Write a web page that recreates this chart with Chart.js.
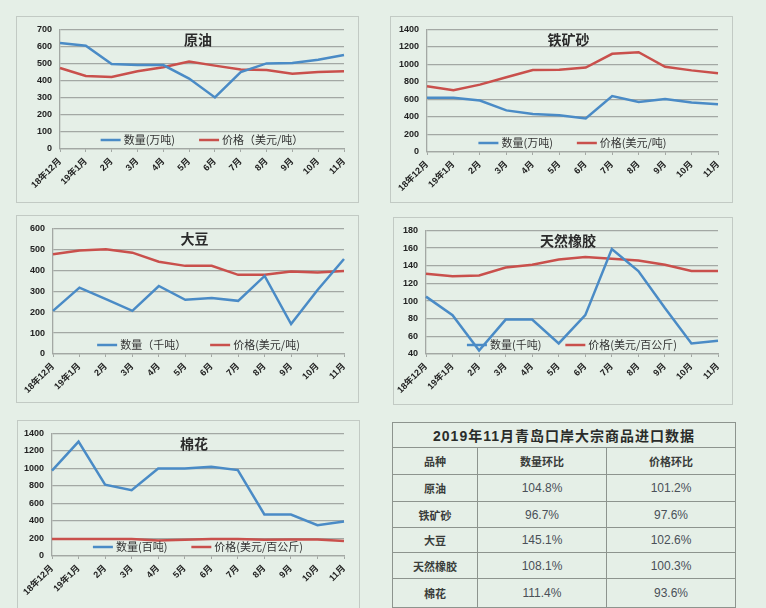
<!DOCTYPE html>
<html lang="zh-CN">
<head>
<meta charset="UTF-8">
<title>2019年11月青岛口岸大宗商品进口数据</title>
<style>
    body {
        margin: 0;
        width: 766px;
        height: 608px;
        overflow: hidden;
        position: relative;
        background-color: #e5efe7;
        font-family: "Liberation Sans", "Noto Sans CJK SC", sans-serif;
    }
    .frame {
        position: absolute;
        box-sizing: border-box;
        border: 1px solid #c2cac4;
    }
    canvas {
        position: absolute;
    }
    #tbl {
        position: absolute;
        left: 392px;
        top: 422px;
        width: 343px;
        border-collapse: collapse;
        table-layout: fixed;
        color: #3a3d3b;
    }
    #tbl td {
        border: 1px solid #8d948e;
        text-align: center;
        padding: 0;
        font-size: 11px;
        font-weight: bold;
    }
    #tbl td.ttl {
        font-size: 14px;
        letter-spacing: 1px;
        color: #2a2c2a;
    }
    #tbl td.val {
        font-weight: normal;
        color: #4a5058;
        font-size: 12px;
    }
</style>
<script src="https://cdn.jsdelivr.net/npm/chart.js"></script>
</head>
<body>
    <div class="frame" style="left:16px;top:16px;width:343px;height:187px"></div>
    <div class="frame" style="left:390px;top:16px;width:343px;height:187px"></div>
    <div class="frame" style="left:16px;top:215px;width:343px;height:188px"></div>
    <div class="frame" style="left:393px;top:217px;width:340px;height:188px"></div>
    <div class="frame" style="left:17px;top:420px;width:343px;height:200px"></div>

    <canvas id="crude" width="343" height="187" style="left:16px;top:16px"></canvas>
    <canvas id="ore" width="343" height="187" style="left:390px;top:16px"></canvas>
    <canvas id="soy" width="343" height="188" style="left:16px;top:215px"></canvas>
    <canvas id="rubber" width="340" height="188" style="left:393px;top:217px"></canvas>
    <canvas id="cotton" width="343" height="190" style="left:17px;top:420px"></canvas>

    <table id="tbl"></table>

<script>
    // 月份
    var months = ['18年12月', '19年1月', '2月', '3月', '4月', '5月', '6月', '7月', '8月', '9月', '10月', '11月'];

    // 原油
    var crudeQty   = [620, 605, 497, 491, 491, 412, 302, 450, 501, 503, 522, 550];
    var crudePrice = [474, 427, 421, 455, 478, 512, 488, 465, 463, 440, 450, 455];
    // 铁矿砂
    var oreQty   = [620, 620, 587, 475, 434, 420, 382, 639, 572, 605, 564, 546];
    var orePrice = [750, 705, 769, 854, 936, 939, 965, 1121, 1140, 973, 932, 899];
    // 大豆
    var soyQty   = [206, 317, 262, 206, 325, 259, 267, 254, 373, 143, 306, 454];
    var soyPrice = [476, 494, 500, 484, 441, 421, 421, 378, 379, 394, 389, 397];
    // 天然橡胶
    var rubberQty   = [105, 84, 44, 79, 79, 52, 84, 159, 134, 92, 52, 55];
    var rubberPrice = [131, 128, 129, 138, 141, 147, 150, 148, 146, 141, 134, 134];
    // 棉花
    var cottonQty   = [974, 1307, 815, 752, 1000, 1000, 1019, 981, 474, 474, 352, 393];
    var cottonPrice = [193, 193, 193, 193, 178, 185, 193, 193, 185, 189, 189, 170];

    // 表格
    var tableTitle = '2019年11月青岛口岸大宗商品进口数据';
    var tableHead  = ['品种', '数量环比', '价格环比'];
    var tableNames = ['原油', '铁矿砂', '大豆', '天然橡胶', '棉花'];
    var qtyRatio   = ['104.8%', '96.7%', '145.1%', '108.1%', '111.4%'];
    var priceRatio = ['101.2%', '97.6%', '102.6%', '100.3%', '93.6%'];

    var blue = '#4a8bc6';
    var red = '#c9504c';
    var gridColor = '#a3a8a4';
    var tickFont = { family: '"Liberation Sans", "Noto Sans CJK SC", sans-serif', size: 9, weight: 'bold' };

    // 标题和图例画在绘图区里面
    var insideText = {
        id: 'insideText',
        afterDatasetsDraw: function (chart, args, opts) {
            var ctx = chart.ctx;
            var a = chart.chartArea;
            var cx = (a.left + a.right) / 2;
            ctx.save();
            ctx.fillStyle = '#2b2b2b';
            ctx.textAlign = 'center';
            ctx.textBaseline = 'middle';
            ctx.font = 'bold 14px "Noto Sans CJK SC"';
            ctx.fillText(opts.title, cx + opts.titleDx, a.top + opts.titleY);

            ctx.font = '11px "Noto Sans CJK SC"';
            ctx.textAlign = 'left';
            var sets = chart.data.datasets;
            var lineLen = 20, gap = 24;
            var widths = sets.map(function (d) { return lineLen + 3 + ctx.measureText(d.label).width; });
            var total = widths.reduce(function (s, w) { return s + w; }, 0) + gap * (sets.length - 1);
            var x = cx - total / 2;
            var y = a.bottom - opts.legendY;
            sets.forEach(function (d, i) {
                ctx.strokeStyle = d.borderColor;
                ctx.lineWidth = 2.5;
                ctx.beginPath();
                ctx.moveTo(x, y);
                ctx.lineTo(x + lineLen, y);
                ctx.stroke();
                ctx.fillStyle = '#333';
                ctx.fillText(d.label, x + lineLen + 3, y);
                x += widths[i] + gap;
            });
            ctx.restore();
        }
    };

    function makeChart(id, title, qty, price, qtyLabel, priceLabel, yMin, yMax, yStep, lay) {
        new Chart(document.getElementById(id), {
            type: 'line',
            data: {
                labels: months,
                datasets: [
                    { label: qtyLabel, data: qty, borderColor: blue, borderWidth: 2.5, pointRadius: 0, tension: 0 },
                    { label: priceLabel, data: price, borderColor: red, borderWidth: 2.5, pointRadius: 0, tension: 0 }
                ]
            },
            options: {
                responsive: false,
                animation: false,
                layout: { padding: { top: lay.top, right: lay.right, left: 0, bottom: 0 } },
                plugins: {
                    legend: { display: false },
                    tooltip: { enabled: false },
                    insideText: { title: title, titleY: 10, titleDx: -4, legendY: 9 }
                },
                scales: {
                    x: {
                        offset: false,
                        grid: { drawOnChartArea: false, color: gridColor, tickLength: 3 },
                        border: { color: gridColor, width: 1.3 },
                        ticks: { minRotation: 45, maxRotation: 45, autoSkip: false, color: '#222', font: tickFont, padding: 4 },
                        afterFit: function (s) { s.height = lay.xH; }
                    },
                    y: {
                        min: yMin,
                        max: yMax,
                        ticks: {
                            stepSize: yStep, color: '#222', font: tickFont, padding: 8,
                            callback: function (v) { return String(v); }
                        },
                        grid: { color: gridColor, lineWidth: 1.3, drawTicks: false },
                        border: { color: gridColor, width: 1.3 },
                        afterFit: function (s) { s.width = lay.yW; }
                    }
                }
            },
            plugins: [insideText]
        });
    }

    makeChart('crude', '原油', crudeQty, crudePrice, '数量(万吨)', '价格（美元/吨）', 0, 700, 100,
        { top: 10, right: 15, yW: 44, xH: 54 });
    makeChart('ore', '铁矿砂', oreQty, orePrice, '数量(万吨)', '价格(美元/吨)', 0, 1400, 200,
        { top: 10, right: 15, yW: 37, xH: 51 });
    makeChart('soy', '大豆', soyQty, soyPrice, '数量（千吨）', '价格(美元/吨)', 0, 600, 100,
        { top: 13, right: 15, yW: 37, xH: 49 });
    makeChart('rubber', '天然橡胶', rubberQty, rubberPrice, '数量(千吨)', '价格(美元/百公斤)', 40, 180, 20,
        { top: 8, right: 15, yW: 33, xH: 51 });
    makeChart('cotton', '棉花', cottonQty, cottonPrice, '数量(百吨)', '价格(美元/百公斤)', 0, 1400, 200,
        { top: 10, right: 16, yW: 35, xH: 54 });

    // 表格
    var tbl = document.getElementById('tbl');
    var rowHeights = [25, 27, 27, 26, 25, 26, 29];
    var html = '<colgroup><col style="width:85px"><col style="width:129px"><col style="width:129px"></colgroup>';
    html += '<tr style="height:' + rowHeights[0] + 'px"><td class="ttl" colspan="3">' + tableTitle + '</td></tr>';
    html += '<tr style="height:' + rowHeights[1] + 'px">' + tableHead.map(function (h) { return '<td>' + h + '</td>'; }).join('') + '</tr>';
    for (var i = 0; i < tableNames.length; i++) {
        html += '<tr style="height:' + rowHeights[i + 2] + 'px"><td>' + tableNames[i] + '</td><td class="val">' + qtyRatio[i] +
            '</td><td class="val">' + priceRatio[i] + '</td></tr>';
    }
    tbl.innerHTML = html;
</script>
</body>
</html>
